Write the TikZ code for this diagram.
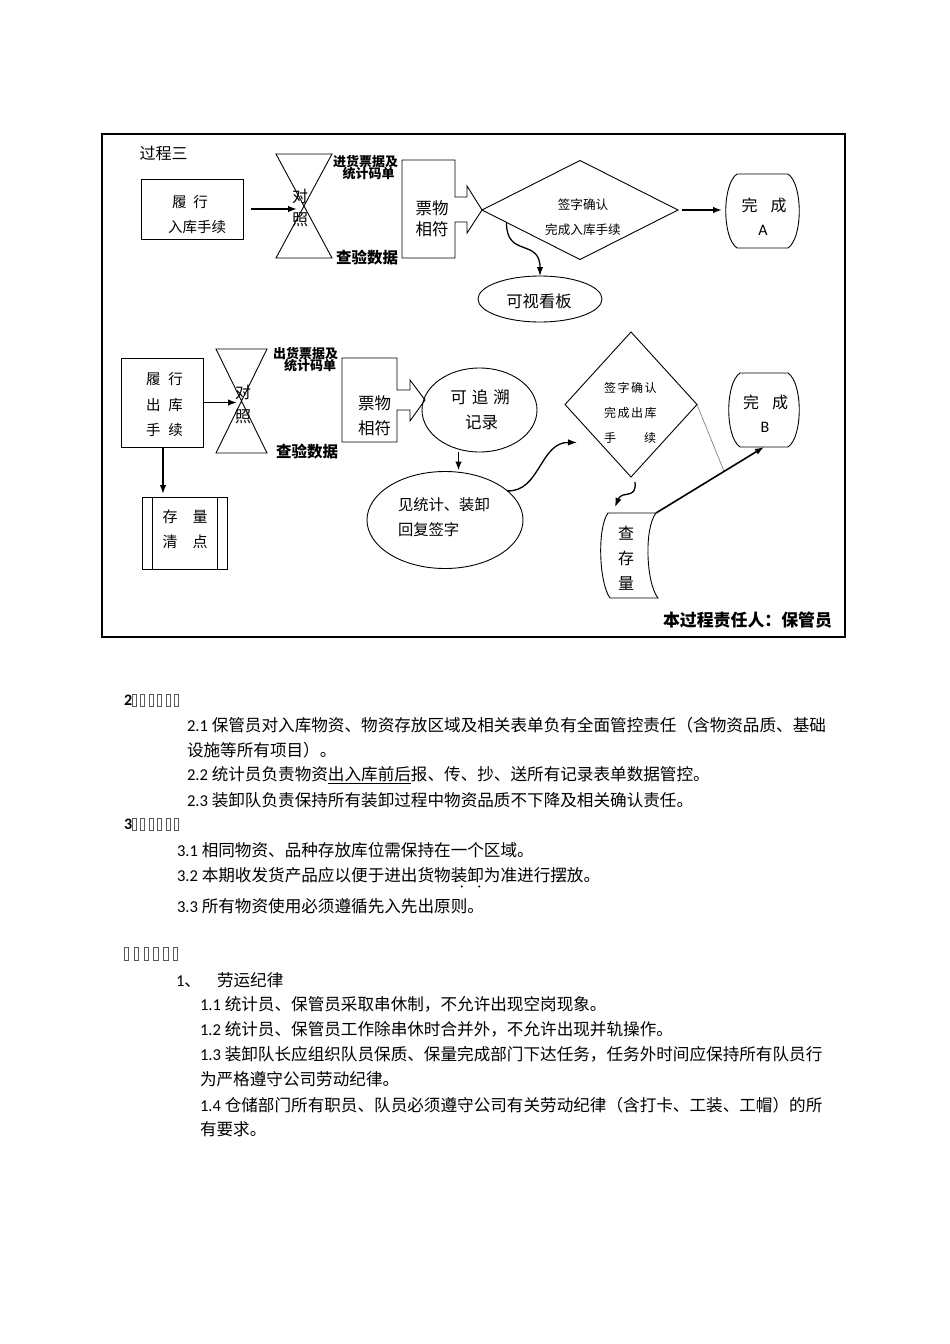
\documentclass[tikz,border=0pt]{standalone}
\usepackage{fontspec}
\setmainfont{Carlito}
\newfontfamily\cjk{Noto Sans CJK SC}
\usetikzlibrary{arrows.meta,shapes.geometric,calc}
\newcommand\cfs[1]{\cjk\fontsize{#1}{#1}\selectfont}
\newcommand\lat{\rmfamily}
\begin{document}
\begin{tikzpicture}[x=1pt,y=-1pt,
  shp/.style={draw=black, line width=0.9pt, inner sep=0pt, outer sep=0pt},
  ghost/.style={inner sep=0pt, outer sep=0pt},
  arr/.style={line width=1.6pt, -{Latex[length=9pt,width=6.5pt]}},
  carr/.style={line width=1.3pt, -{Latex[length=9pt,width=6.5pt]}},
  lbl/.style={inner sep=0pt, outer sep=0pt},
  body/.style={inner sep=0pt, outer sep=0pt, anchor=west, font=\cfs{16.6}},
  tofu/.style={draw=black!65, line width=0.7pt}]
\useasboundingbox (0,0) rectangle (950,1344);

% frame
\node[shp, line width=1.3pt, minimum width=743, minimum height=503] (frame) at (473.5,385.5) {};
\node[lbl, font=\cfs{16}] (title) at (163.5,153) {过程三};

% ---------- upper row ----------
\node[shp, minimum width=102, minimum height=60] (b1) at (192,209) {};
\node[lbl, font=\cfs{14.5}] (b1t1) at (190,202) {履\hspace{7pt}行};
\node[lbl, font=\cfs{14.5}] (b1t2) at (197,227) {入库手续};

\coordinate (hg1) at (304,206);
\draw[line width=0.9pt] (276,154) -- (332,154) -- (276,258) -- (332,258) -- cycle;
\node[lbl, font=\cfs{16}] (hg1a) at (300,196) {对};
\node[lbl, font=\cfs{16}] (hg1b) at (300,220) {照};
\draw[arr, shorten <=8pt, shorten >=7pt] (b1.east) -- (b1.east -| hg1);

\node[lbl, font=\cfs{13}\bfseries] (in1) at (365.5,162) {进货票据及};
\node[lbl, font=\cfs{13}\bfseries] (in2) at (368.5,174) {统计码单};
\node[lbl, font=\cfs{15.5}\bfseries] (chk1) at (367,258) {查验数据};

\node[ghost, minimum width=53, minimum height=98] (pw1) at (428.5,209) {};
\draw[line width=0.9pt] (402,160) -- (455,160) -- (455,197) -- (467,197) -- (467,186)
  -- (482,210) -- (467,233) -- (467,222) -- (455,222) -- (455,258) -- (402,258) -- cycle;
\node[lbl, font=\cfs{16.5}] (pw1a) at (432,208) {票物};
\node[lbl, font=\cfs{16.5}] (pw1b) at (432,229) {相符};

\node[shp, diamond, minimum width=196, minimum height=99] (d1) at (580,210) {};
\node[lbl, font=\cfs{12.6}] (d1a) at (583,205) {签字确认};
\node[lbl, font=\cfs{12.6}] (d1b) at (583,230) {完成入库手续};

\node[ghost, minimum width=75, minimum height=74] (tA) at (762.5,211) {};
\draw[line width=0.9pt] (737,174) -- (788,174) .. controls (803,184) and (803,238) .. (788,248)
  -- (737,248) .. controls (722,238) and (722,184) .. cycle;
\node[lbl, font=\cfs{16}] (tAa) at (764,205) {完\hspace{13pt}成};
\node[lbl, font=\lat\fontsize{16}{16}\selectfont] (tAb) at (763,230) {A};
\draw[arr, shorten <=4pt, shorten >=3pt] (d1.east) -- (d1.east -| tA.west);

\node[shp, ellipse, minimum width=124, minimum height=46] (v1) at (540,299) {};
\node[lbl, font=\cfs{16.3}] (v1t) at (539,301) {可视看板};
\draw[carr] ($(d1.west)!0.25!(d1.south)$) .. controls (506,258) and (540,238) .. (v1.north);

% ---------- lower row ----------
\node[shp, minimum width=82, minimum height=89] (b2) at (162,402.5) {};
\node[lbl, font=\cfs{14.5}] (b2a) at (164.5,379) {履\hspace{8pt}行};
\node[lbl, font=\cfs{14.5}] (b2b) at (164.5,405) {出\hspace{8pt}库};
\node[lbl, font=\cfs{14.5}] (b2c) at (164.5,430) {手\hspace{8pt}续};

\coordinate (hg2) at (242,401);
\draw[line width=0.9pt] (216,349) -- (267,349) -- (216,453) -- (267,453) -- cycle;
\node[lbl, font=\cfs{16}] (hg2a) at (243,392) {对};
\node[lbl, font=\cfs{16}] (hg2b) at (243,417) {照};
\draw[arr, shorten <=1pt, shorten >=5pt] (b2.east) -- (b2.east -| hg2);

\node[lbl, font=\cfs{13}\bfseries] (out1) at (305.5,354) {出货票据及};
\node[lbl, font=\cfs{13}\bfseries] (out2) at (310,366) {统计码单};
\node[lbl, font=\cfs{15.5}\bfseries] (chk2) at (307,452) {查验数据};

\node[ghost, minimum width=55, minimum height=84] (pw2) at (369.5,400) {};
\draw[line width=0.9pt] (342,358) -- (397,358) -- (397,390) -- (410,390) -- (410,380)
  -- (425,400) -- (410,421) -- (410,410) -- (397,410) -- (397,442) -- (342,442) -- cycle;
\node[lbl, font=\cfs{16.5}] (pw2a) at (374.5,403) {票物};
\node[lbl, font=\cfs{16.5}] (pw2b) at (374.5,428) {相符};

\node[shp, ellipse, minimum width=115, minimum height=84] (e1) at (479.5,410) {};
\node[lbl, font=\cfs{16.5}] (e1a) at (480,397) {可\hspace{5pt}追\hspace{5pt}溯};
\node[lbl, font=\cfs{16.5}] (e1b) at (481.5,422) {记录};

\node[shp, ellipse, minimum width=156, minimum height=97] (e2) at (445,520) {};
\node[lbl, font=\cfs{15.3}, anchor=west] (e2a) at (398,505) {见统计、装卸};
\node[lbl, font=\cfs{15.3}, anchor=west] (e2b) at (398,530) {回复签字};
\draw[arr, shorten >=1pt] ([xshift=-21pt]e1.south) -- ([xshift=-21pt]e1.south |- e2.north);

\node[shp, diamond, minimum width=132, minimum height=145] (d2) at (631,404.5) {};
\node[lbl, font=\cfs{12}, anchor=west] (d2a) at (604,388) {签\kern1.5pt 字\kern1.5pt 确\kern1.5pt 认};
\node[lbl, font=\cfs{12}, anchor=west] (d2b) at (604,413) {完\kern1.5pt 成\kern1.5pt 出\kern1.5pt 库};
\node[lbl, font=\cfs{12}, anchor=west] (d2c) at (604,438) {手\hspace{28pt}续};
\coordinate (d2in) at ($(d2.west)+(12,38)$);
\draw[carr] (e2.25) .. controls (540,492) and (540,442) .. (d2in);

\node[ghost, minimum width=72, minimum height=74] (tB) at (764,410) {};
\draw[line width=0.9pt] (740,373) -- (788,373) .. controls (803,383) and (803,437) .. (788,447)
  -- (740,447) .. controls (725,437) and (725,383) .. cycle;
\node[lbl, font=\cfs{16}] (tBa) at (765.5,402) {完\hspace{13pt}成};
\node[lbl, font=\lat\fontsize{16}{16}\selectfont] (tBb) at (765,427) {B};

\node[ghost, minimum width=48, minimum height=85] (doc) at (632,555.5) {};
\draw[line width=0.9pt] (doc.north west) .. controls (597,528) and (599,583) .. (610,598)
  -- (658,598) .. controls (646,583) and (644,528) .. (doc.north east) -- cycle;
\node[lbl, font=\cfs{16}] (doca) at (626,533) {查};
\node[lbl, font=\cfs{16}] (docb) at (626,558) {存};
\node[lbl, font=\cfs{16}] (docc) at (626,583) {量};

\coordinate (gx) at ($(doc.north east)!0.63!(tB.south)$);
\draw[black!55, line width=0.6pt] (d2.east) -- (gx);
\draw[arr] (doc.north east) -- (tB.south);
\draw[carr] ([shift={(4,5)}]d2.south) .. controls (637,500) and (622,490) .. ([shift={(-17,-6)}]doc.north);

\node[shp, minimum width=85, minimum height=72] (pp) at (184.5,533) {};
\draw[line width=0.9pt] ([xshift=10pt]pp.north west) -- ([xshift=10pt]pp.south west);
\draw[line width=0.9pt] ([xshift=-10pt]pp.north east) -- ([xshift=-10pt]pp.south east);
\node[lbl, font=\cfs{15}] (ppa) at (185,517) {存\hspace{15pt}量};
\node[lbl, font=\cfs{15}] (ppb) at (185,542) {清\hspace{15pt}点};
\draw[arr, shorten >=3pt] ([xshift=1pt]b2.south) -- ([xshift=1pt]b2.south |- pp.north);

\node[lbl, font=\cfs{16.9}\bfseries] (resp) at (747.5,620) {本过程责任人：保管员};

% ---------- text below ----------
\node[body, font=\lat\bfseries\fontsize{16}{16}\selectfont] (h2) at (124,700) {2};
\foreach \i in {0,...,5} \draw[tofu] (132.3+\i*8.4,694) rectangle ++(4,12);
\node[body] (l21) at (187,725) {{\lat 2.1 }保管员对入库物资、物资存放区域及相关表单负有全面管控责任（含物资品质、基础};
\node[body] (l21b) at (187,750) {设施等所有项目）。};
\node[body] (l22) at (187,775) {{\lat 2.2 }统计员负责物资\underline{出入库前后}报、传、抄、送所有记录表单数据管控。};
\node[body] (l23) at (187,800) {{\lat 2.3 }装卸队负责保持所有装卸过程中物资品质不下降及相关确认责任。};
\node[body, font=\lat\bfseries\fontsize{16}{16}\selectfont] (h3) at (124,824) {3};
\foreach \i in {0,...,5} \draw[tofu] (132.3+\i*8.4,818) rectangle ++(4,12);
\node[body] (l31) at (177,850) {{\lat 3.1 }相同物资、品种存放库位需保持在一个区域。};
\node[body] (l32) at (177,875) {{\lat 3.2 }本期收发货产品应以便于进出货物装卸为准进行摆放。};
\fill (461.7,886.5) circle (1.1);
\fill (479.3,886.5) circle (1.1);
\node[body] (l33) at (177,906) {{\lat 3.3 }所有物资使用必须遵循先入先出原则。};
\foreach \i in {0,...,5} \draw[tofu] (124.3+\i*9.8,947) rectangle ++(4.5,13);
\node[body] (l1) at (176,980) {{\lat 1}、\hspace*{16pt}劳运纪律};
\node[body] (l11) at (200,1004) {{\lat 1.1 }统计员、保管员采取串休制，不允许出现空岗现象。};
\node[body] (l12) at (200,1029) {{\lat 1.2 }统计员、保管员工作除串休时合并外，不允许出现并轨操作。};
\node[body] (l13) at (200,1054) {{\lat 1.3 }装卸队长应组织队员保质、保量完成部门下达任务，任务外时间应保持所有队员行};
\node[body] (l13b) at (200,1079) {为严格遵守公司劳动纪律。};
\node[body] (l14) at (200,1105) {{\lat 1.4 }仓储部门所有职员、队员必须遵守公司有关劳动纪律（含打卡、工装、工帽）的所};
\node[body] (l14b) at (200,1129) {有要求。};
\end{tikzpicture}
\end{document}
